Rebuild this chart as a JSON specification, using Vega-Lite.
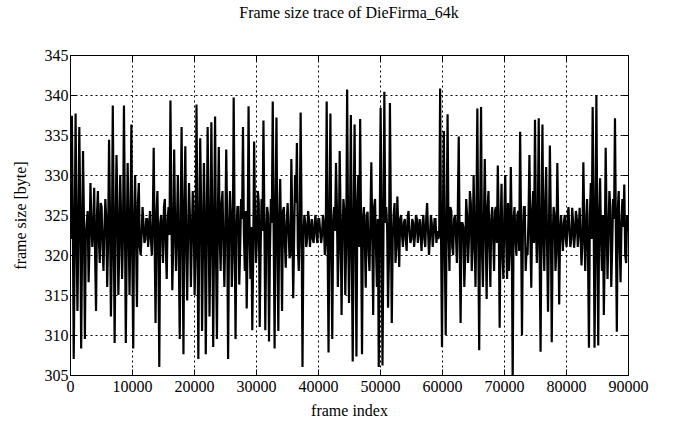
{
  "$schema": "https://vega.github.io/schema/vega-lite/v6.json",
  "autosize": "none",
  "width": 558,
  "height": 320,
  "padding": {"left": 70, "top": 55, "right": 67, "bottom": 54},
  "background": "white",
  "title": {"text": "Frame size trace of DieFirma_64k", "font": "Liberation Serif", "fontSize": 16, "fontWeight": "normal", "color": "black", "baseline": "alphabetic", "offset": 13},
  "config": {
    "view": {"stroke": "black", "strokeWidth": 1},
    "axis": {"labelFont": "Liberation Serif", "titleFont": "Liberation Serif", "labelFontSize": 16, "titleFontSize": 16, "titleFontWeight": "normal", "labelColor": "black", "titleColor": "black", "domainColor": "black", "tickColor": "black", "gridColor": "black", "gridOpacity": 1, "gridDash": [2, 3], "gridWidth": 1}
  },
  "resolve": {"axis": {"x": "independent", "y": "independent"}},
  "data": {"values": [
{"frame":0,"size":328},{"frame":150,"size":322},{"frame":300,"size":337.4},{"frame":450,"size":325},{"frame":600,"size":307},{"frame":750,"size":320.5},{"frame":900,"size":337.7},{"frame":1050,"size":324},{"frame":1200,"size":313},{"frame":1350,"size":323},
{"frame":1500,"size":336},{"frame":1650,"size":326},{"frame":1800,"size":308.3},{"frame":1950,"size":321},{"frame":2100,"size":333},{"frame":2250,"size":324.5},{"frame":2400,"size":309.5},{"frame":2550,"size":322.5},{"frame":2700,"size":324},{"frame":2850,"size":325.5},
{"frame":3000,"size":316.6},{"frame":3150,"size":321.5},{"frame":3300,"size":329},{"frame":3450,"size":324},{"frame":3600,"size":321},{"frame":3750,"size":323.5},{"frame":3900,"size":328.4},{"frame":4050,"size":320},{"frame":4200,"size":313},{"frame":4350,"size":325},
{"frame":4500,"size":328},{"frame":4650,"size":322},{"frame":4800,"size":319},{"frame":4950,"size":326.5},{"frame":5100,"size":326},{"frame":5250,"size":321},{"frame":5400,"size":318},{"frame":5550,"size":323},{"frame":5700,"size":327},{"frame":5850,"size":324.5},
{"frame":6000,"size":316},{"frame":6150,"size":322},{"frame":6300,"size":334.4},{"frame":6450,"size":325},{"frame":6600,"size":312.3},{"frame":6750,"size":320.5},{"frame":6900,"size":338.7},{"frame":7050,"size":324},{"frame":7200,"size":309},{"frame":7350,"size":323},
{"frame":7500,"size":332.5},{"frame":7650,"size":326},{"frame":7800,"size":315},{"frame":7950,"size":321},{"frame":8100,"size":330},{"frame":8250,"size":324.5},{"frame":8400,"size":317},{"frame":8550,"size":322.5},{"frame":8700,"size":338.7},{"frame":8850,"size":325.5},
{"frame":9000,"size":309},{"frame":9150,"size":321.5},{"frame":9300,"size":331.5},{"frame":9450,"size":324},{"frame":9600,"size":315},{"frame":9750,"size":323.5},{"frame":9900,"size":336.3},{"frame":10050,"size":320},{"frame":10200,"size":308.3},{"frame":10350,"size":325},
{"frame":10500,"size":330},{"frame":10650,"size":322},{"frame":10800,"size":313.5},{"frame":10950,"size":326.5},{"frame":11100,"size":329},{"frame":11250,"size":321},{"frame":11400,"size":320},{"frame":11550,"size":322.5},{"frame":11700,"size":326},{"frame":11850,"size":324},
{"frame":12000,"size":321.5},{"frame":12150,"size":322},{"frame":12300,"size":324.5},{"frame":12450,"size":324.5},{"frame":12600,"size":321},{"frame":12750,"size":323},{"frame":12900,"size":325.5},{"frame":13050,"size":322},{"frame":13200,"size":320},{"frame":13350,"size":324},
{"frame":13500,"size":333.4},{"frame":13650,"size":322},{"frame":13800,"size":311.5},{"frame":13950,"size":325},{"frame":14100,"size":328},{"frame":14250,"size":320.5},{"frame":14400,"size":306},{"frame":14550,"size":324},{"frame":14700,"size":325},{"frame":14850,"size":323},
{"frame":15000,"size":319},{"frame":15150,"size":326},{"frame":15300,"size":327},{"frame":15450,"size":321},{"frame":15600,"size":317},{"frame":15750,"size":324.5},{"frame":15900,"size":326},{"frame":16050,"size":322.5},{"frame":16200,"size":339.3},{"frame":16350,"size":325.5},
{"frame":16500,"size":315.6},{"frame":16650,"size":321.5},{"frame":16800,"size":333.2},{"frame":16950,"size":324},{"frame":17100,"size":318},{"frame":17250,"size":323.5},{"frame":17400,"size":330},{"frame":17550,"size":320},{"frame":17700,"size":309.5},{"frame":17850,"size":325},
{"frame":18000,"size":336},{"frame":18150,"size":322},{"frame":18300,"size":307.6},{"frame":18450,"size":326.5},{"frame":18600,"size":333.6},{"frame":18750,"size":321},{"frame":18900,"size":314.3},{"frame":19050,"size":323},{"frame":19200,"size":329},{"frame":19350,"size":324.5},
{"frame":19500,"size":316},{"frame":19650,"size":322},{"frame":19800,"size":328},{"frame":19950,"size":325},{"frame":20100,"size":315},{"frame":20250,"size":320.5},{"frame":20400,"size":338.8},{"frame":20550,"size":324},{"frame":20700,"size":307},{"frame":20850,"size":323},
{"frame":21000,"size":334.6},{"frame":21150,"size":326},{"frame":21300,"size":310.5},{"frame":21450,"size":321},{"frame":21600,"size":331.5},{"frame":21750,"size":324.5},{"frame":21900,"size":307.6},{"frame":22050,"size":322.5},{"frame":22200,"size":336},{"frame":22350,"size":325.5},
{"frame":22500,"size":312.3},{"frame":22650,"size":321.5},{"frame":22800,"size":336.6},{"frame":22950,"size":324},{"frame":23100,"size":308.5},{"frame":23250,"size":323.5},{"frame":23400,"size":337.3},{"frame":23550,"size":320},{"frame":23700,"size":309.5},{"frame":23850,"size":325},
{"frame":24000,"size":333.5},{"frame":24150,"size":322},{"frame":24300,"size":318},{"frame":24450,"size":326.5},{"frame":24600,"size":328},{"frame":24750,"size":321},{"frame":24900,"size":316},{"frame":25050,"size":323},{"frame":25200,"size":333.2},{"frame":25350,"size":324.5},
{"frame":25500,"size":307},{"frame":25650,"size":322},{"frame":25800,"size":328},{"frame":25950,"size":325},{"frame":26100,"size":316},{"frame":26250,"size":320.5},{"frame":26400,"size":339.7},{"frame":26550,"size":324},{"frame":26700,"size":309.5},{"frame":26850,"size":323},
{"frame":27000,"size":326},{"frame":27150,"size":326},{"frame":27300,"size":316.3},{"frame":27450,"size":321},{"frame":27600,"size":327},{"frame":27750,"size":324.5},{"frame":27900,"size":336},{"frame":28050,"size":322.5},{"frame":28200,"size":318},{"frame":28350,"size":325.5},
{"frame":28500,"size":313.3},{"frame":28650,"size":321.5},{"frame":28800,"size":338.6},{"frame":28950,"size":324},{"frame":29100,"size":317},{"frame":29250,"size":323.5},{"frame":29400,"size":310.6},{"frame":29550,"size":320},{"frame":29700,"size":334.2},{"frame":29850,"size":325},
{"frame":30000,"size":319},{"frame":30150,"size":322},{"frame":30300,"size":328},{"frame":30450,"size":326.5},{"frame":30600,"size":311},{"frame":30750,"size":321},{"frame":30900,"size":327},{"frame":31050,"size":323},{"frame":31200,"size":336.8},{"frame":31350,"size":324.5},
{"frame":31500,"size":310.6},{"frame":31650,"size":322},{"frame":31800,"size":326},{"frame":31950,"size":325},{"frame":32100,"size":309.2},{"frame":32250,"size":320.5},{"frame":32400,"size":327},{"frame":32550,"size":324},{"frame":32700,"size":339.2},{"frame":32850,"size":323},
{"frame":33000,"size":308.3},{"frame":33150,"size":326},{"frame":33300,"size":337.2},{"frame":33450,"size":321},{"frame":33600,"size":310.5},{"frame":33750,"size":324.5},{"frame":33900,"size":329.5},{"frame":34050,"size":322.5},{"frame":34200,"size":313},{"frame":34350,"size":325.5},
{"frame":34500,"size":326},{"frame":34650,"size":321.5},{"frame":34800,"size":318.4},{"frame":34950,"size":324},{"frame":35100,"size":326.5},{"frame":35250,"size":323.5},{"frame":35400,"size":319.6},{"frame":35550,"size":320},{"frame":35700,"size":332},{"frame":35850,"size":325},
{"frame":36000,"size":314.6},{"frame":36150,"size":322},{"frame":36300,"size":330},{"frame":36450,"size":326.5},{"frame":36600,"size":334},{"frame":36750,"size":321},{"frame":36900,"size":318},{"frame":37050,"size":323},{"frame":37200,"size":337.8},{"frame":37350,"size":324.5},
{"frame":37500,"size":306},{"frame":37650,"size":322.5},{"frame":37800,"size":325},{"frame":37950,"size":324},{"frame":38100,"size":321},{"frame":38250,"size":322},{"frame":38400,"size":325.5},{"frame":38550,"size":324.5},{"frame":38700,"size":321},{"frame":38850,"size":323},
{"frame":39000,"size":324.5},{"frame":39150,"size":322},{"frame":39300,"size":321.5},{"frame":39450,"size":324},{"frame":39600,"size":325},{"frame":39750,"size":322.5},{"frame":39900,"size":321.5},{"frame":40050,"size":324.5},{"frame":40200,"size":324.5},{"frame":40350,"size":323},
{"frame":40500,"size":321.5},{"frame":40650,"size":322.5},{"frame":40800,"size":325},{"frame":40950,"size":324},{"frame":41100,"size":320},{"frame":41250,"size":322},{"frame":41400,"size":339.2},{"frame":41550,"size":322},{"frame":41700,"size":307.8},{"frame":41850,"size":325},
{"frame":42000,"size":337.7},{"frame":42150,"size":320.5},{"frame":42300,"size":309.5},{"frame":42450,"size":324},{"frame":42600,"size":326},{"frame":42750,"size":323},{"frame":42900,"size":331.5},{"frame":43050,"size":326},{"frame":43200,"size":316},{"frame":43350,"size":321},
{"frame":43500,"size":333},{"frame":43650,"size":324.5},{"frame":43800,"size":312.5},{"frame":43950,"size":322.5},{"frame":44100,"size":327},{"frame":44250,"size":325.5},{"frame":44400,"size":315},{"frame":44550,"size":321.5},{"frame":44700,"size":340.7},{"frame":44850,"size":324},
{"frame":45000,"size":314},{"frame":45150,"size":323.5},{"frame":45300,"size":337.5},{"frame":45450,"size":320},{"frame":45600,"size":306.7},{"frame":45750,"size":325},{"frame":45900,"size":336.3},{"frame":46050,"size":322},{"frame":46200,"size":307.3},{"frame":46350,"size":326.5},
{"frame":46500,"size":330},{"frame":46650,"size":321},{"frame":46800,"size":337},{"frame":46950,"size":323},{"frame":47100,"size":307.6},{"frame":47250,"size":324.5},{"frame":47400,"size":326},{"frame":47550,"size":322},{"frame":47700,"size":315.9},{"frame":47850,"size":325},
{"frame":48000,"size":325.4},{"frame":48150,"size":320.5},{"frame":48300,"size":318},{"frame":48450,"size":324},{"frame":48600,"size":331.6},{"frame":48750,"size":323},{"frame":48900,"size":312.5},{"frame":49050,"size":326},{"frame":49200,"size":327},{"frame":49350,"size":321},
{"frame":49500,"size":316},{"frame":49650,"size":324.5},{"frame":49800,"size":306},{"frame":49950,"size":322.5},{"frame":50100,"size":338.4},{"frame":50250,"size":325.5},{"frame":50400,"size":306.2},{"frame":50550,"size":321.5},{"frame":50700,"size":340.4},{"frame":50850,"size":324},
{"frame":51000,"size":326},{"frame":51150,"size":323.5},{"frame":51300,"size":313.4},{"frame":51450,"size":320},{"frame":51600,"size":339},{"frame":51750,"size":325},{"frame":51900,"size":311.5},{"frame":52050,"size":322},{"frame":52200,"size":325},{"frame":52350,"size":326.5},
{"frame":52500,"size":319},{"frame":52650,"size":321},{"frame":52800,"size":327.3},{"frame":52950,"size":323},{"frame":53100,"size":318.5},{"frame":53250,"size":324.5},{"frame":53400,"size":325},{"frame":53550,"size":322.5},{"frame":53700,"size":321},{"frame":53850,"size":324},
{"frame":54000,"size":324.5},{"frame":54150,"size":322},{"frame":54300,"size":320.5},{"frame":54450,"size":324.5},{"frame":54600,"size":325.5},{"frame":54750,"size":323},{"frame":54900,"size":321.5},{"frame":55050,"size":322},{"frame":55200,"size":324.5},{"frame":55350,"size":324},
{"frame":55500,"size":321},{"frame":55650,"size":322.5},{"frame":55800,"size":325},{"frame":55950,"size":324.5},{"frame":56100,"size":321.5},{"frame":56250,"size":323},{"frame":56400,"size":324.5},{"frame":56550,"size":322.5},{"frame":56700,"size":320.5},{"frame":56850,"size":324},
{"frame":57000,"size":325},{"frame":57150,"size":322},{"frame":57300,"size":321},{"frame":57450,"size":324.5},{"frame":57600,"size":326.5},{"frame":57750,"size":323},{"frame":57900,"size":320},{"frame":58050,"size":322},{"frame":58200,"size":325},{"frame":58350,"size":324},
{"frame":58500,"size":321},{"frame":58650,"size":322.5},{"frame":58800,"size":324.5},{"frame":58950,"size":324.5},{"frame":59100,"size":321.5},{"frame":59250,"size":323},{"frame":59400,"size":322},{"frame":59550,"size":322.5},{"frame":59700,"size":340.8},{"frame":59850,"size":322},
{"frame":60000,"size":308.5},{"frame":60150,"size":325},{"frame":60300,"size":335.5},{"frame":60450,"size":320.5},{"frame":60600,"size":310},{"frame":60750,"size":324},{"frame":60900,"size":337.6},{"frame":61050,"size":323},{"frame":61200,"size":318},{"frame":61350,"size":326},
{"frame":61500,"size":325.5},{"frame":61650,"size":321},{"frame":61800,"size":320},{"frame":61950,"size":324.5},{"frame":62100,"size":325},{"frame":62250,"size":322.5},{"frame":62400,"size":319},{"frame":62550,"size":325.5},{"frame":62700,"size":334.8},{"frame":62850,"size":321.5},
{"frame":63000,"size":311.5},{"frame":63150,"size":324},{"frame":63300,"size":324},{"frame":63450,"size":323.5},{"frame":63600,"size":316},{"frame":63750,"size":320},{"frame":63900,"size":327},{"frame":64050,"size":325},{"frame":64200,"size":319},{"frame":64350,"size":322},
{"frame":64500,"size":328},{"frame":64650,"size":326.5},{"frame":64800,"size":318},{"frame":64950,"size":321},{"frame":65100,"size":330},{"frame":65250,"size":323},{"frame":65400,"size":316},{"frame":65550,"size":324.5},{"frame":65700,"size":338.3},{"frame":65850,"size":322},
{"frame":66000,"size":308.1},{"frame":66150,"size":325},{"frame":66300,"size":338.5},{"frame":66450,"size":320.5},{"frame":66600,"size":316},{"frame":66750,"size":324},{"frame":66900,"size":332},{"frame":67050,"size":323},{"frame":67200,"size":314.5},{"frame":67350,"size":326},
{"frame":67500,"size":328},{"frame":67650,"size":321},{"frame":67800,"size":316},{"frame":67950,"size":324.5},{"frame":68100,"size":326},{"frame":68250,"size":322.5},{"frame":68400,"size":318},{"frame":68550,"size":325.5},{"frame":68700,"size":326},{"frame":68850,"size":321.5},
{"frame":69000,"size":331.2},{"frame":69150,"size":324},{"frame":69300,"size":310.9},{"frame":69450,"size":323.5},{"frame":69600,"size":328.9},{"frame":69750,"size":320},{"frame":69900,"size":317},{"frame":70050,"size":325},{"frame":70200,"size":330},{"frame":70350,"size":322},
{"frame":70500,"size":317},{"frame":70650,"size":326.5},{"frame":70800,"size":318},{"frame":70950,"size":321},{"frame":71100,"size":331},{"frame":71250,"size":323},{"frame":71400,"size":304},{"frame":71550,"size":324.5},{"frame":71700,"size":326},{"frame":71850,"size":322},
{"frame":72000,"size":320},{"frame":72150,"size":325},{"frame":72300,"size":325.5},{"frame":72450,"size":320.5},{"frame":72600,"size":335.4},{"frame":72750,"size":324},{"frame":72900,"size":310},{"frame":73050,"size":323},{"frame":73200,"size":326},{"frame":73350,"size":326},
{"frame":73500,"size":318},{"frame":73650,"size":321},{"frame":73800,"size":320},{"frame":73950,"size":324.5},{"frame":74100,"size":332.5},{"frame":74250,"size":322.5},{"frame":74400,"size":315.9},{"frame":74550,"size":325.5},{"frame":74700,"size":328},{"frame":74850,"size":321.5},
{"frame":75000,"size":336.9},{"frame":75150,"size":324},{"frame":75300,"size":319},{"frame":75450,"size":323.5},{"frame":75600,"size":337.1},{"frame":75750,"size":320},{"frame":75900,"size":307.9},{"frame":76050,"size":325},{"frame":76200,"size":336.3},{"frame":76350,"size":322},
{"frame":76500,"size":318},{"frame":76650,"size":326.5},{"frame":76800,"size":331},{"frame":76950,"size":321},{"frame":77100,"size":312.9},{"frame":77250,"size":323},{"frame":77400,"size":333.7},{"frame":77550,"size":324.5},{"frame":77700,"size":309.1},{"frame":77850,"size":322},
{"frame":78000,"size":326},{"frame":78150,"size":325},{"frame":78300,"size":318},{"frame":78450,"size":320.5},{"frame":78600,"size":331.5},{"frame":78750,"size":324},{"frame":78900,"size":313.8},{"frame":79050,"size":323},{"frame":79200,"size":325},{"frame":79350,"size":322.5},
{"frame":79500,"size":320.5},{"frame":79650,"size":324},{"frame":79800,"size":325},{"frame":79950,"size":322},{"frame":80100,"size":321},{"frame":80250,"size":324.5},{"frame":80400,"size":326},{"frame":80550,"size":323},{"frame":80700,"size":321},{"frame":80850,"size":322},
{"frame":81000,"size":325.9},{"frame":81150,"size":324},{"frame":81300,"size":320.9},{"frame":81450,"size":322.5},{"frame":81600,"size":325.5},{"frame":81750,"size":324.5},{"frame":81900,"size":321},{"frame":82050,"size":323},{"frame":82200,"size":325.9},{"frame":82350,"size":322.5},
{"frame":82500,"size":318.7},{"frame":82650,"size":321.5},{"frame":82800,"size":331.6},{"frame":82950,"size":324},{"frame":83100,"size":318},{"frame":83250,"size":323.5},{"frame":83400,"size":327},{"frame":83550,"size":320},{"frame":83700,"size":308.4},{"frame":83850,"size":325},
{"frame":84000,"size":329},{"frame":84150,"size":322},{"frame":84300,"size":338.5},{"frame":84450,"size":326.5},{"frame":84600,"size":308.4},{"frame":84750,"size":321},{"frame":84900,"size":340},{"frame":85050,"size":323},{"frame":85200,"size":308.7},{"frame":85350,"size":324.5},
{"frame":85500,"size":329.6},{"frame":85650,"size":322},{"frame":85800,"size":318},{"frame":85950,"size":325},{"frame":86100,"size":312.5},{"frame":86250,"size":320.5},{"frame":86400,"size":333.4},{"frame":86550,"size":324},{"frame":86700,"size":317},{"frame":86850,"size":323},
{"frame":87000,"size":328},{"frame":87150,"size":326},{"frame":87300,"size":316},{"frame":87450,"size":321},{"frame":87600,"size":327},{"frame":87750,"size":324.5},{"frame":87900,"size":337.1},{"frame":88050,"size":322.5},{"frame":88200,"size":310.4},{"frame":88350,"size":325.5},
{"frame":88500,"size":328},{"frame":88650,"size":321.5},{"frame":88800,"size":316.6},{"frame":88950,"size":324},{"frame":89100,"size":327},{"frame":89250,"size":323.5},{"frame":89400,"size":328.8},{"frame":89550,"size":320},{"frame":89700,"size":319},{"frame":89850,"size":325},
{"frame":90000,"size":323}
  ]},
  "layer": [
    {
      "mark": {"type": "line", "color": "black", "strokeWidth": 2.2, "clip": true},
      "encoding": {
        "x": {"field": "frame", "type": "quantitative", "scale": {"domain": [0, 90000], "nice": false, "zero": false},
              "axis": {"title": "frame index", "values": [0,10000,20000,30000,40000,50000,60000,70000,80000,90000], "format": "d", "tickSize": -6, "labelPadding": 9, "labelFlush": false, "titleY": 40, "titleBaseline": "alphabetic"}},
        "y": {"field": "size", "type": "quantitative", "scale": {"domain": [305, 345], "nice": false, "zero": false},
              "axis": {"title": "frame size [byte]", "values": [305,310,315,320,325,330,335,340,345], "tickSize": -6, "labelPadding": 8, "labelFlush": false, "titleX": -45, "titleY": 160, "titleBaseline": "alphabetic", "titleAlign": "center"}}
      }
    },
    {
      "mark": {"type": "line", "strokeOpacity": 0},
      "encoding": {
        "x": {"field": "frame", "type": "quantitative", "scale": {"domain": [0, 90000], "nice": false, "zero": false}, "axis": {"orient": "top", "labels": false, "title": null, "grid": false, "domain": false, "tickSize": -6, "values": [0,10000,20000,30000,40000,50000,60000,70000,80000,90000]}},
        "y": {"field": "size", "type": "quantitative", "scale": {"domain": [305, 345], "nice": false, "zero": false}, "axis": {"orient": "right", "labels": false, "title": null, "grid": false, "domain": false, "tickSize": -6, "values": [305,310,315,320,325,330,335,340,345]}}
      }
    }
  ]
}
